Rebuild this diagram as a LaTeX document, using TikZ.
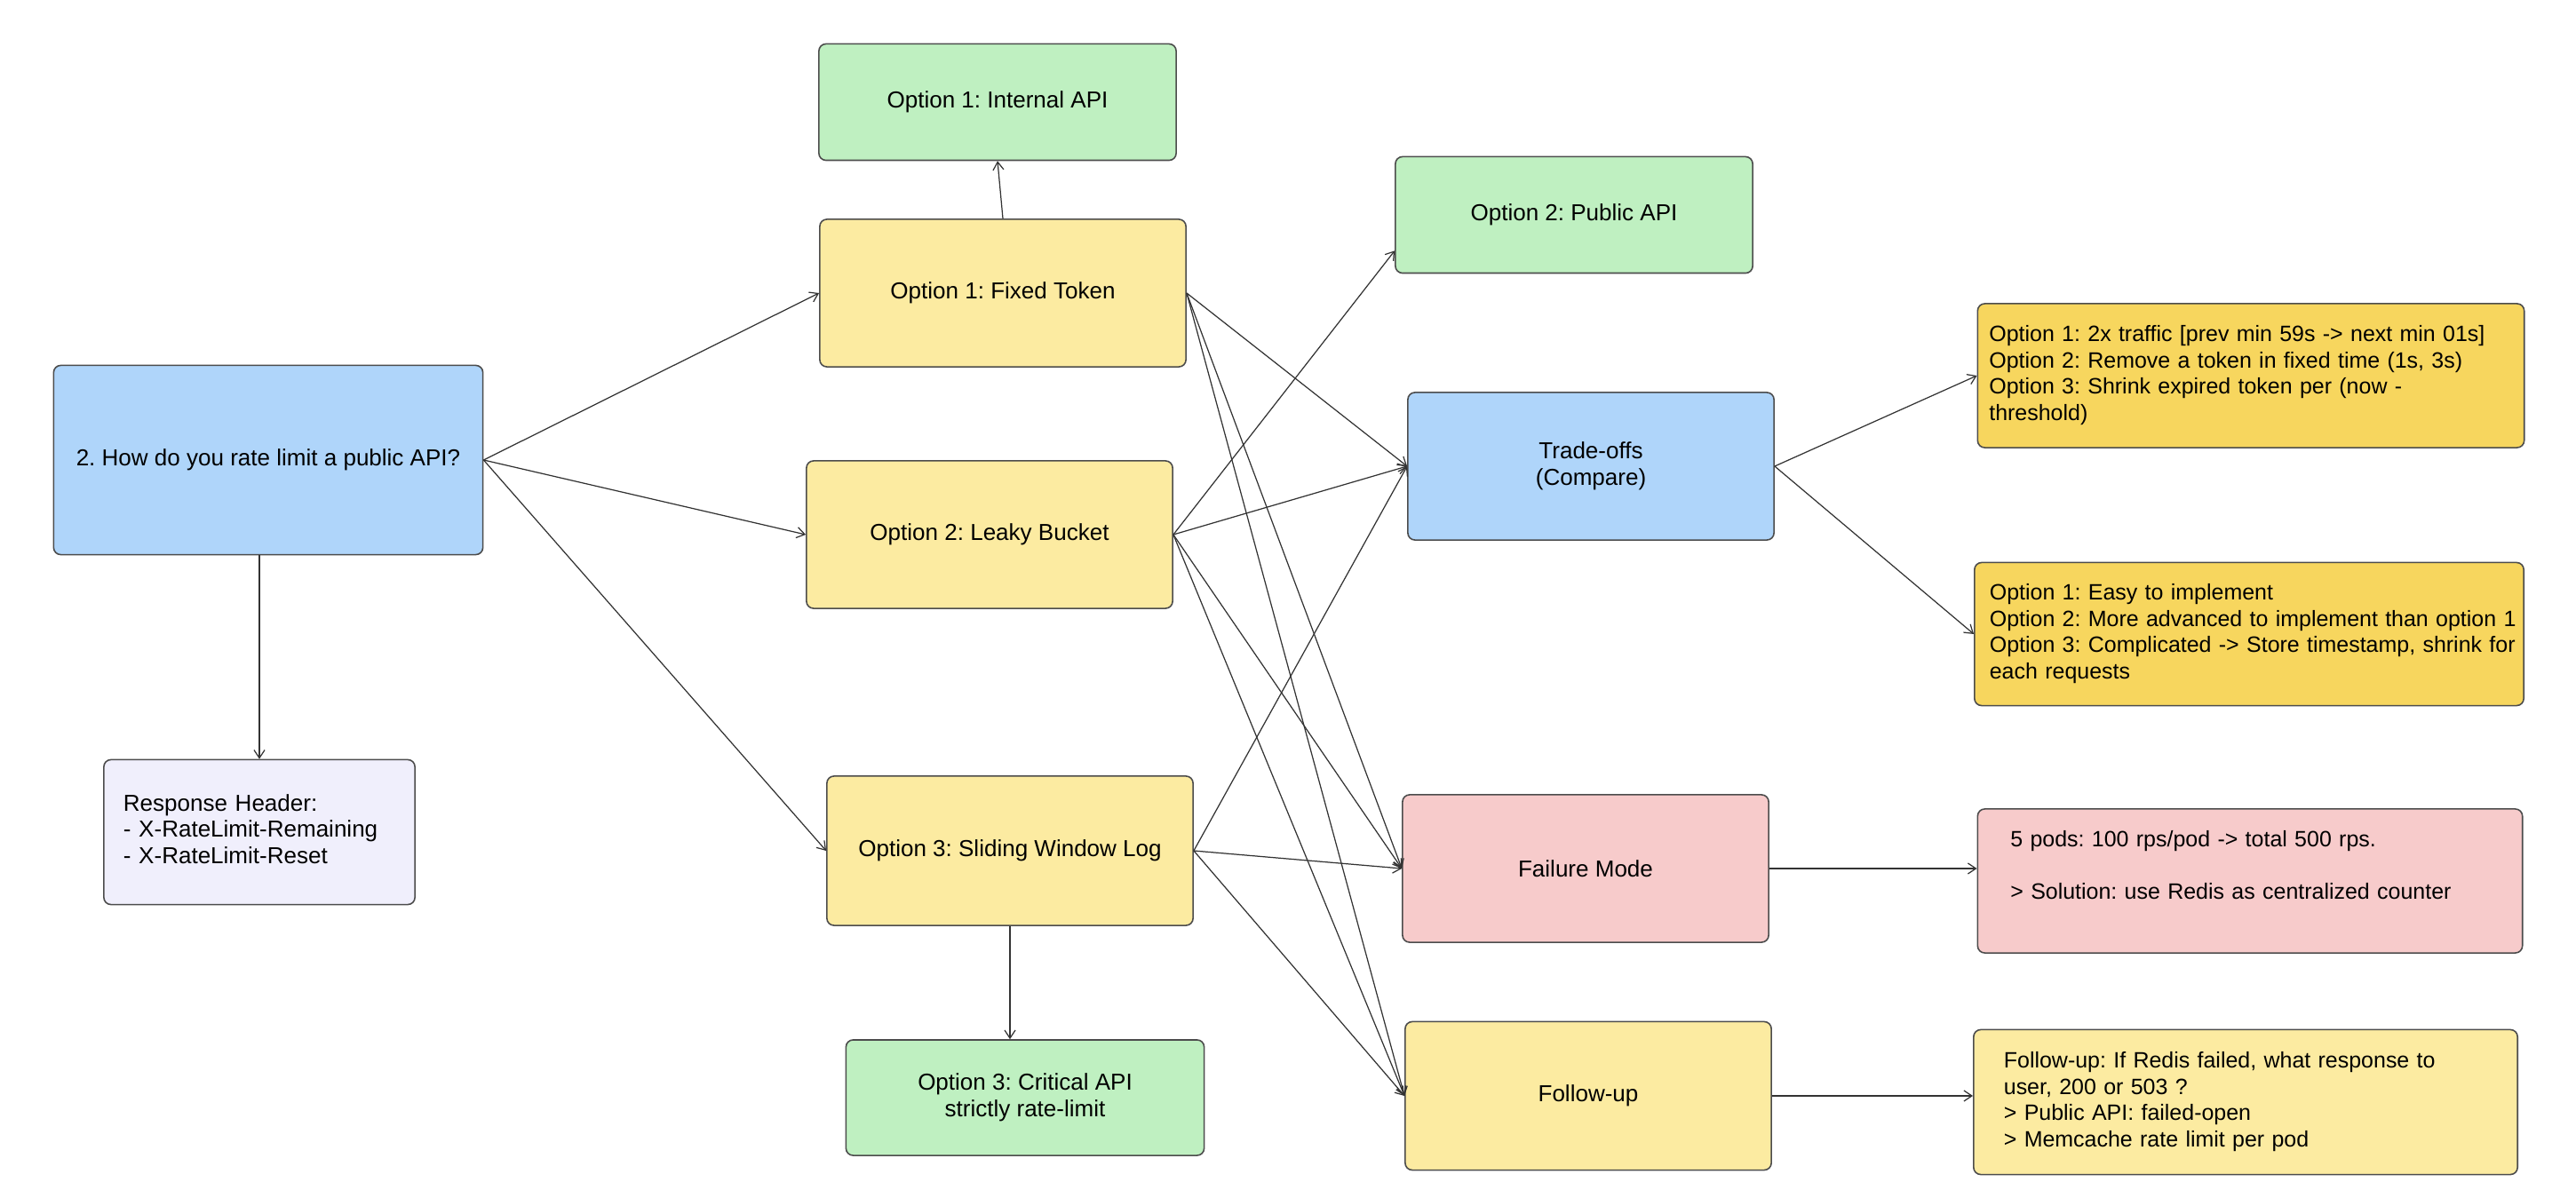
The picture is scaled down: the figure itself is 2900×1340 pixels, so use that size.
\documentclass[tikz,border=0pt]{standalone}
\usepackage{fontspec}
\setmainfont{Liberation Sans}
\usetikzlibrary{arrows.meta,calc}
\frenchspacing

\definecolor{optgreen}{RGB}{191,240,193}
\definecolor{optyellow}{RGB}{252,235,161}
\definecolor{optblue}{RGB}{175,213,250}
\definecolor{optpink}{RGB}{247,203,203}
\definecolor{optgold}{RGB}{247,214,94}
\definecolor{optlav}{RGB}{240,239,252}

\begin{document}
\begin{tikzpicture}[x=0.01cm,y=-0.01cm,
  font=\fontsize{7.4}{8.4}\selectfont,
  box/.style={draw=black!70,line width=0.45pt,rounded corners=0.8mm,align=center,inner sep=0pt},
  note/.style={box,align=left,font=\fontsize{7.1}{8.4}\selectfont},
  link/.style={draw=black!80,line width=0.35pt,-{Straight Barb[length=0.9mm,width=1.2mm]}}]

\useasboundingbox (0,0) rectangle (2900,1340);

% Question and the three options
\node[box,fill=optblue,minimum width=4.83cm,minimum height=2.13cm] (main) at (302,518) {2. How do you rate limit a public API?};
\node[box,fill=optyellow,minimum width=4.12cm,minimum height=1.66cm] (fixed) at (1129,330) {Option 1: Fixed Token};
\node[box,fill=optyellow,minimum width=4.12cm,minimum height=1.66cm] (leaky) at (1114,602) {Option 2: Leaky Bucket};
\node[box,fill=optyellow,minimum width=4.12cm,minimum height=1.68cm] (sliding) at (1137,958) {Option 3: Sliding Window Log};

\node[box,fill=optgreen,minimum width=4.02cm,minimum height=1.31cm] (internal) at (1123,115) {Option 1: Internal API};
\node[box,fill=optgreen,minimum width=4.03cm,minimum height=1.30cm] (critical) at (1154,1236) {Option 3: Critical API\\strictly rate-limit};
\node[box,fill=optgreen,minimum width=4.02cm,minimum height=1.31cm] (public) at (1772,242) {Option 2: Public API};

\node[note,font=\fontsize{7.4}{8.4}\selectfont,fill=optlav,minimum width=3.50cm,minimum height=1.63cm,inner xsep=0.22cm,text width=3.06cm] (header) at (292,937) {\begin{tabular}{@{}l@{}}Response Header:\\- X-RateLimit-Remaining\\- X-RateLimit-Reset\end{tabular}};

% Second column
\node[box,fill=optblue,minimum width=4.12cm,minimum height=1.66cm] (tradeoffs) at (1791,525) {Trade-offs\\(Compare)};
\node[box,fill=optpink,minimum width=4.12cm,minimum height=1.66cm] (failure) at (1785,978) {Failure Mode};
\node[box,fill=optyellow,minimum width=4.12cm,minimum height=1.67cm] (followup) at (1788,1234) {Follow-up};

% Notes on the right
\node[note,fill=optgold,minimum width=6.15cm,minimum height=1.62cm,inner xsep=0.13cm,text width=5.89cm] (note1) at (2534,423) {\begin{tabular}{@{}l@{}}Option 1: 2x traffic [prev min 59s -> next min 01s]\\Option 2: Remove a token in fixed time (1s, 3s)\\Option 3: Shrink expired token per (now -\\threshold)\end{tabular}};
\node[note,fill=optgold,minimum width=6.18cm,minimum height=1.61cm,inner xsep=0.17cm,text width=5.84cm] (note2) at (2532,714) {\begin{tabular}{@{}l@{}}Option 1: Easy to implement\\Option 2: More advanced to implement than option 1\\Option 3: Complicated -> Store timestamp, shrink for\\each requests\end{tabular}};
\node[note,fill=optpink,minimum width=6.13cm,minimum height=1.62cm,inner xsep=0.37cm,text width=5.39cm] (note3) at (2533,992) {\begin{tabular}{@{}l@{}}5 pods: 100 rps/pod -> total 500 rps.\\ \\> Solution: use Redis as centralized counter\\ {}\end{tabular}};
\node[note,fill=optyellow,minimum width=6.12cm,minimum height=1.63cm,inner xsep=0.34cm,text width=5.44cm] (note4) at (2528,1241) {\begin{tabular}{@{}l@{}}Follow-up: If Redis failed, what response to\\user, 200 or 503 ?\\> Public API: failed-open\\> Memcache rate limit per pod\end{tabular}};

\coordinate (publicin) at ($(public.south west)+(0,-26)$);

% Draw connectors from the question
\draw[link] (main.east) -- (fixed.west);
\draw[link] (main.east) -- (leaky.west);
\draw[link] (main.east) -- (sliding.west);
\draw[link] (main.south -| header.north) -- (header.north);

\draw[link] (fixed.north) -- (internal.south);
\draw[link] (sliding.south) -- (sliding.south |- critical.north);

% Draw connectors into the second column
\foreach \src in {fixed,leaky,sliding} {
  \draw[link] (\src.east) -- (tradeoffs.west);
  \draw[link] (\src.east) -- (failure.west);
  \draw[link] (\src.east) -- (followup.west);
}
\draw[link] (leaky.east) -- (publicin);

\draw[link] (tradeoffs.east) -- (note1.west);
\draw[link] (tradeoffs.east) -- (note2.west);
\draw[link] (failure.east) -- (failure.east -| note3.west);
\draw[link] (followup.east) -- (followup.east -| note4.west);

\end{tikzpicture}
\end{document}
